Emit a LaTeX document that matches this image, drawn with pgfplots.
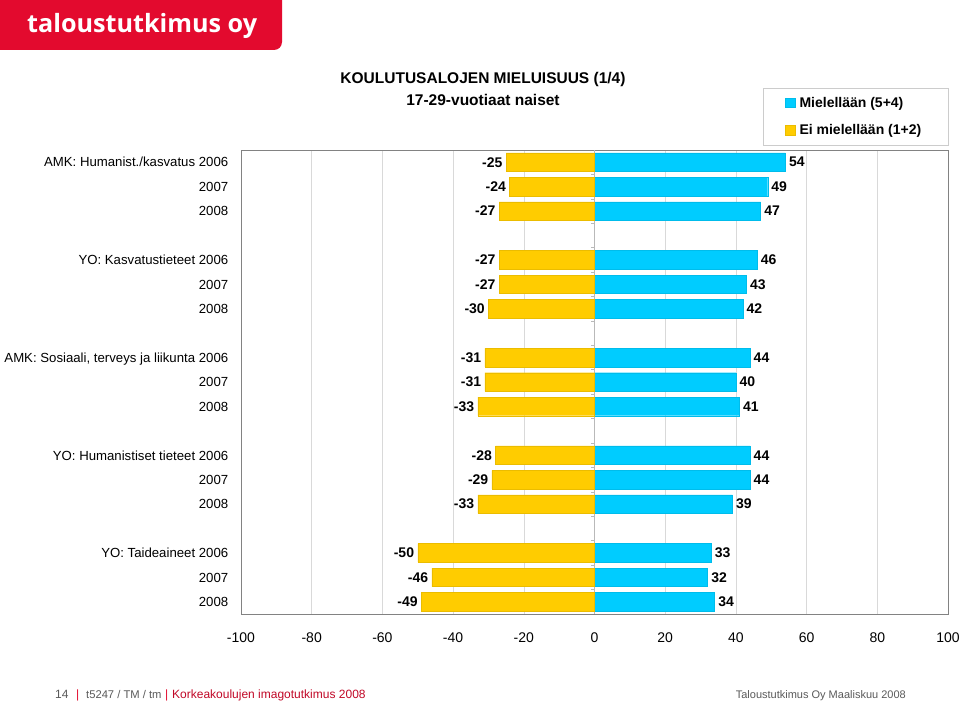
\documentclass[border=0pt]{standalone}
\usepackage{fontspec}
\setmainfont{Liberation Sans}
\newfontfamily\logofont{Open Sans}
\usepackage{graphicx}
\usepackage{pgfplots}
\usepackage{pgfplotstable}
\pgfplotsset{compat=1.18}
\definecolor{tblue}{RGB}{0,204,255}
\definecolor{tyellow}{RGB}{255,204,0}
\definecolor{tred}{RGB}{227,10,46}
\definecolor{fgray}{RGB}{130,130,130}
\definecolor{txtgray}{RGB}{90,90,90}

\pgfplotstableread{
y pos neg
0 54 -25
1 49 -24
2 47 -27
4 46 -27
5 43 -27
6 42 -30
8 44 -31
9 40 -31
10 41 -33
12 44 -28
13 44 -29
14 39 -33
16 33 -50
17 32 -46
18 34 -49
}\datatable

\begin{document}
\begin{tikzpicture}
\path[use as bounding box, fill=white] (0,0) rectangle (960bp,704bp);
% logo
\fill[tred] (0,704bp) -- (282bp,704bp) [rounded corners=8bp] -- (282bp,654bp) [sharp corners] -- (0,654bp) -- cycle;
\node[anchor=base west, text=white, inner sep=0pt] at (27bp,671bp) {\resizebox{230bp}{!}{\logofont\bfseries taloustutkimus oy}};
% title
\node[font=\fontsize{15.5bp}{18bp}\selectfont\bfseries] at (483bp,624bp) {KOULUTUSALOJEN MIELUISUUS (1/4)};
\node[font=\fontsize{15.5bp}{18bp}\selectfont\bfseries] at (483bp,604bp) {17-29-vuotiaat naiset};
% footer
\node[anchor=base west, inner sep=0pt, font=\fontsize{12bp}{14bp}\selectfont, text=txtgray] at (55bp,6bp) {14};
\node[anchor=base west, inner sep=0pt, font=\fontsize{12bp}{14bp}\selectfont, text=tred] at (76bp,6bp) {|};
\node[anchor=base west, inner sep=0pt, font=\fontsize{11.2bp}{14bp}\selectfont, text=txtgray] at (86bp,6bp) {t5247 / TM / tm};
\node[anchor=base west, inner sep=0pt, font=\fontsize{12bp}{14bp}\selectfont, text=tred] at (165bp,6bp) {|};
\node[anchor=base west, inner sep=0pt, font=\fontsize{12bp}{14bp}\selectfont, text=tred!85!black] at (172bp,6bp) {Korkeakoulujen imagotutkimus 2008};
\node[anchor=base east, inner sep=0pt, font=\fontsize{11bp}{13bp}\selectfont, text=txtgray] at (906bp,6bp) {Taloustutkimus Oy Maaliskuu 2008};

\begin{axis}[
  at={(241bp,90bp)}, anchor=south west,
  scale only axis, width=707bp, height=464bp,
  xmin=-100, xmax=100, ymin=-0.5, ymax=18.5, y dir=reverse,
  xtick={-100,-80,...,100},
  xmajorgrids, major grid style={draw=gray!30, line width=0.6bp},
  ytick={0,1,2,4,5,6,8,9,10,12,13,14,16,17,18},
  yticklabels={AMK: Humanist./kasvatus 2006,2007,2008,YO: Kasvatustieteet 2006,2007,2008,{AMK: Sosiaali, terveys ja liikunta 2006},2007,2008,YO: Humanistiset tieteet 2006,2007,2008,YO: Taideaineet 2006,2007,2008},
  tick style={draw=none},
  axis line style={draw=fgray, line width=0.8bp},
  /pgf/number format/assume math mode=true,
  xticklabel style={font=\fontsize{14bp}{16bp}\selectfont, yshift=-15bp},
  yticklabel style={font=\fontsize{13.2bp}{15bp}\selectfont, xshift=-5bp, text height=9.5bp, text depth=0bp},
  xbar, bar width=0.76, bar shift=0pt,
  point meta=x,
  nodes near coords,
  nodes near coords style={font=\fontsize{14bp}{16bp}\selectfont\bfseries, inner sep=3.5bp, text=black},
  legend cell align=left,
  legend style={at={(1,1.1336)}, anchor=north east, draw=gray!40,
    font=\fontsize{14bp}{16bp}\selectfont\bfseries, inner xsep=22bp, inner ysep=7bp, row sep=12bp,
    nodes={inner xsep=4.5bp}},
  legend image code/.code={\fill[#1] (0bp,-4.5bp) rectangle (9.5bp,5bp);},
]
\draw[gray!55, line width=0.6bp] (axis cs:0,-0.5) -- (axis cs:0,18.5);
\pgfplotsinvokeforeach{0,1,2,3,4,5,6,7,8,9,10,11,12,13,14,15,16,17}{\draw[gray!55, line width=0.6bp] (axis cs:-0.9,#1.5) -- (axis cs:0,#1.5);}
\addplot[fill=tblue, draw=tblue!92!black, line width=0.4bp, bar shift=0pt,
  every node near coord/.append style={anchor=west}] table[x=pos, y=y] {\datatable};
\addlegendentry{Mielellään (5+4)}
\addplot[fill=tyellow, draw=tyellow!92!black, line width=0.4bp, bar shift=0pt,
  every node near coord/.append style={anchor=east}] table[x=neg, y=y] {\datatable};
\addlegendentry{Ei mielellään (1+2)}
\end{axis}
\end{tikzpicture}
\end{document}
